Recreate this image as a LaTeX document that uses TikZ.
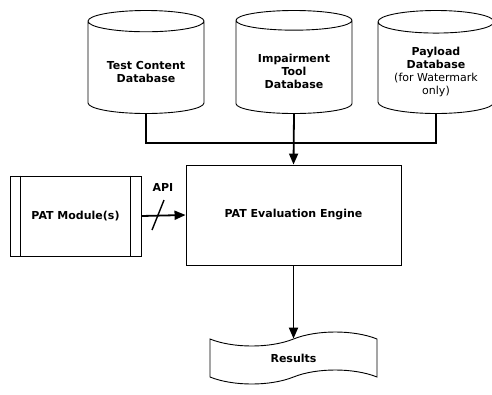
\documentclass[tikz,border=0pt]{standalone}
\usepackage{fontspec}
\setmainfont{DejaVu Sans}
\usetikzlibrary{arrows.meta,shapes.geometric,shapes.symbols}

\begin{document}
\begin{tikzpicture}[x=1pt,y=-1pt,
	db/.style={cylinder,shape border rotate=90,draw,line width=0.9pt,aspect=0.25,anchor=shape center,
		minimum width=116pt,minimum height=103pt,align=center,font=\fontsize{11}{13}\selectfont\bfseries},
	block/.style={draw,line width=0.9pt,font=\fontsize{11}{13}\selectfont\bfseries},
	link/.style={line width=1.8pt},
	flow/.style={link,-{Triangle[length=11pt,width=9pt]}}]
	\useasboundingbox (0,0) rectangle (492,394);
	\node[db] (tcdb) at (146,62) {\\Test Content\\Database};
	\node[db] (itdb) at (294,62) {\\Impairment\\Tool\\Database};
	\node[db] (pldb) at (436,62) {\\Payload\\Database\\{\mdseries(for Watermark}\\{\mdseries only)}};
	\node[block,minimum width=215pt,minimum height=100pt] (eval) at (293.5,215) {PAT Evaluation Engine};
	\node[block,minimum width=131pt,minimum height=80pt] (mod) at (75.5,216) {PAT Module(s)};
	\draw[line width=0.9pt] ([xshift=11pt]mod.north west) -- ([xshift=11pt]mod.south west);
	\draw[line width=0.9pt] ([xshift=-11pt]mod.north east) -- ([xshift=-11pt]mod.south east);
	\node[block,tape,minimum width=167pt,minimum height=52pt,tape bend height=14pt] (res) at (293.5,358) {Results};
	\node[font=\fontsize{11}{13}\selectfont\bfseries] (api) at (163,187) {API};
	
	\coordinate (bus) at (294,143);
	\draw[link] (tcdb.south) |- (bus) -| (pldb.south);
	\draw[flow] (itdb.south) -- (eval.north);
	\draw[flow] (mod.east) -- (eval.west);
	\draw[line width=1.4pt] (152,230) -- (164,200);
	\draw[flow] (eval.south) -- (res.north);
\end{tikzpicture}
\end{document}
